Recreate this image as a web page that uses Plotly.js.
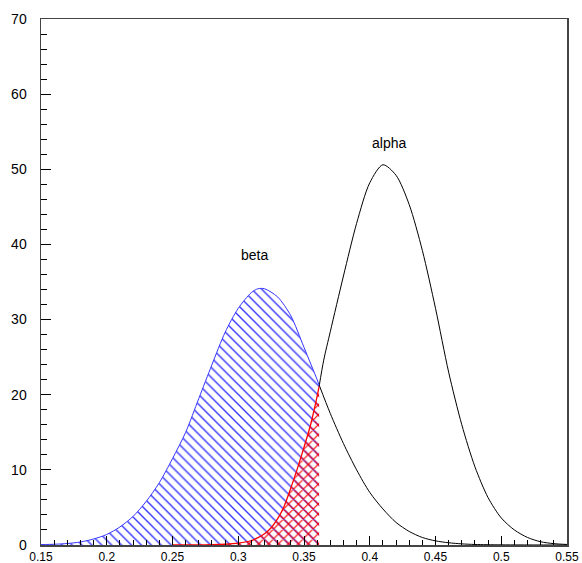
<!DOCTYPE html>
<html>
<head>
<meta charset="utf-8">
<script src="https://cdn.plot.ly/plotly-3.0.1.min.js"></script>
<style>html,body{margin:0;padding:0;background:#fff}#chart{width:582px;height:563px}</style>
</head>
<body>
<div id="chart"></div>
<script>
// Curve samples
var betaX = [0.15,0.16,0.17,0.18,0.19,0.20,0.21,0.22,0.23,0.24,0.25,0.26,0.27,0.28,0.29,0.30,0.31,0.315,0.32,0.33,0.34,0.35,0.36,0.3615,0.37,0.38,0.39,0.40,0.41,0.42,0.43,0.44,0.45,0.46,0.47,0.48,0.50,0.55];
var betaY = [0.05,0.1,0.2,0.4,0.8,1.4,2.4,3.8,5.8,8.3,11.5,15.0,19.5,24.0,28.3,31.5,33.6,34.1,34.1,33.0,30.5,26.3,22.0,21.3,17.5,13.5,10.0,7.0,4.8,3.0,1.8,1.0,0.55,0.3,0.15,0.07,0.02,0.0];
var alphaX = [0.25,0.26,0.27,0.28,0.29,0.30,0.31,0.32,0.325,0.33,0.335,0.34,0.345,0.35,0.355,0.36,0.3615,0.365,0.37,0.38,0.39,0.40,0.41,0.42,0.43,0.44,0.45,0.46,0.47,0.48,0.49,0.50,0.51,0.52,0.53,0.54,0.55];
var alphaY = [0.0,0.01,0.02,0.04,0.1,0.25,0.6,1.5,2.3,3.5,5.2,7.6,10.2,13.0,16.0,19.8,21.1,24.6,28.4,35.8,42.8,48.2,50.6,49.2,45.3,39.2,31.5,23.0,16.0,10.4,6.3,3.6,2.0,1.0,0.43,0.18,0.07];
var cutX = 0.3615;
var xTickVals = [0.15,0.2,0.25,0.3,0.35,0.4,0.45,0.5,0.55];
var xTickText = ['0.15','0.2','0.25','0.3','0.35','0.4','0.45','0.5','0.55'];
var yTickVals = [0,10,20,30,40,50,60,70];
var labels = ['beta','alpha'];
var labelX = [0.312,0.4146];
var labelY = [38.6,53.5];

function part(xs, ys, lo, hi){
  var ox=[], oy=[];
  for (var i=0;i<xs.length;i++){ if (xs[i]>=lo-1e-9 && xs[i]<=hi+1e-9){ox.push(xs[i]); oy.push(ys[i]);} }
  return {x:ox, y:oy};
}
var bR = part(betaX, betaY, cutX, 1), aR = part(alphaX, alphaY, cutX, 1);
var bL = part(betaX, betaY, 0, cutX), aL = part(alphaX, alphaY, 0, cutX);

var traces = [
  {x:bR.x, y:bR.y, mode:'lines', line:{color:'#000', width:1, shape:'spline', smoothing:0.8}, hoverinfo:'skip'},
  {x:aR.x, y:aR.y, mode:'lines', line:{color:'#000', width:1, shape:'spline', smoothing:0.8}, hoverinfo:'skip'},
  {x:bL.x, y:bL.y, mode:'lines', fill:'tozeroy', fillcolor:'rgba(0,0,0,0)',
   fillpattern:{shape:'\\', fgcolor:'#3535ff', bgcolor:'rgba(0,0,0,0)', size:7, solidity:0.2},
   line:{color:'#3535ff', width:1, shape:'spline', smoothing:0.8}, hoverinfo:'skip'},
  {x:aL.x, y:aL.y, mode:'lines', fill:'tozeroy', fillcolor:'rgba(0,0,0,0)',
   fillpattern:{shape:'x', fgcolor:'#ff0000', bgcolor:'rgba(0,0,0,0)', size:7, solidity:0.3},
   line:{color:'#ff0000', width:1.3, shape:'spline', smoothing:0.8}, hoverinfo:'skip'}
];

var annotations = labels.map(function(t,i){
  return {x:labelX[i], y:labelY[i], xref:'x', yref:'y', text:t, showarrow:false,
          font:{family:'Liberation Sans, Arial, sans-serif', size:14, color:'#000'}};
});

var layout = {
  width:582, height:563,
  margin:{l:41, r:15, t:19, b:18, pad:0},
  paper_bgcolor:'#fff', plot_bgcolor:'#fff',
  showlegend:false,
  font:{family:'Liberation Sans, Arial, sans-serif', size:14, color:'#000'},
  xaxis:{range:[0.15,0.55], tickvals:xTickVals, ticktext:xTickText, ticks:'inside', ticklen:9, tickcolor:'#000', tickwidth:1,
         minor:{dtick:0.01, ticks:'inside', ticklen:5, tickcolor:'#000', tickwidth:1, showgrid:false},
         showgrid:false, zeroline:false, showline:true, linecolor:'#444', linewidth:1.5, mirror:true, ticklabelstandoff:0,
         tickfont:{family:'Liberation Sans, Arial, sans-serif', size:12, color:'#000'}},
  yaxis:{range:[0,70], tickvals:yTickVals, ticks:'inside', ticklen:10, tickcolor:'#000', tickwidth:1,
         minor:{dtick:2, ticks:'inside', ticklen:6, tickcolor:'#000', tickwidth:1, showgrid:false},
         showgrid:false, zeroline:false, showline:true, linecolor:'#444', linewidth:1.5, mirror:true, ticklabelstandoff:10},
  annotations:annotations
};
Plotly.newPlot('chart', traces, layout, {staticPlot:true});
</script>
</body>
</html>
